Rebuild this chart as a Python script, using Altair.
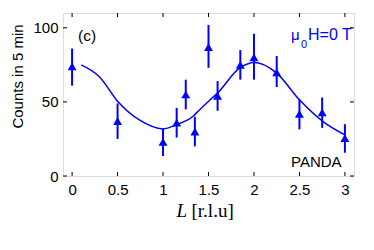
import altair as alt
import pandas as pd

# measured data points
L = [0, 0.5, 1.0, 1.15, 1.25, 1.35, 1.5, 1.6, 1.85, 2.0, 2.25, 2.5, 2.75, 3.0]
counts = [74, 37, 23, 36, 55, 30, 87, 54, 75, 80, 70, 42, 43, 25.5]
err_lo = [61, 25, 13.5, 26, 45, 20, 73, 44, 65, 65, 60, 31.5, 32.5, 15.7]
err_hi = [86, 49, 32, 46, 65, 40, 102, 64, 85, 96, 81, 51.5, 53, 35]

# fit curve
fit_L = [0.1, 0.3, 0.5, 0.74, 1.0, 1.145, 1.33, 1.4, 1.51, 1.6, 1.84, 2.01, 2.25, 2.5, 2.76, 3.0]
fit_c = [75, 67, 50.5, 37.8, 31.8, 34.5, 40.3, 44.6, 51, 56, 72.8, 76.6, 69.4, 51.4, 36.7, 27.7]

x_ticks = [0, 0.5, 1, 1.5, 2, 2.5, 3]
y_ticks = [0, 50, 100]

W, H = 291, 163
BLUE = "#0000FF"
SANS = "Liberation Sans"
SERIF = "Liberation Serif"

pts = pd.DataFrame({"L": L, "c": counts, "lo": err_lo, "hi": err_hi})
fit = pd.DataFrame({"L": fit_L, "c": fit_c})
xt = pd.DataFrame({"v": x_ticks})
yt = pd.DataFrame({"v": y_ticks})

xs = alt.Scale(domain=[-0.1, 3.1], nice=False, zero=False)
ys = alt.Scale(domain=[0, 110], nice=False)

xax = alt.Axis(values=x_ticks, title=None, ticks=False, domain=False, grid=False,
               labelFont=SANS, labelFontSize=15, labelColor="black", labelPadding=6,
               labelExpr="datum.value == 0 ? '0' : format(datum.value, '~g')")
yax = alt.Axis(values=y_ticks, title=None, ticks=False, domain=False, grid=False,
               labelFont=SANS, labelFontSize=15, labelColor="black", labelPadding=5)

base = alt.Chart(pts)

errs = base.mark_rule(color=BLUE, strokeWidth=2).encode(
    x=alt.X("L:Q", scale=xs, axis=xax),
    y=alt.Y("lo:Q", scale=ys, axis=yax),
    y2="hi:Q",
)
marks = base.mark_point(shape="triangle-up", filled=True, color=BLUE, size=80, opacity=1).encode(
    x=alt.X("L:Q", scale=xs), y=alt.Y("c:Q", scale=ys)
)
curve = alt.Chart(fit).mark_line(color=BLUE, strokeWidth=1.5, interpolate="monotone").encode(
    x=alt.X("L:Q", scale=xs), y=alt.Y("c:Q", scale=ys)
)

tb = alt.Chart(xt).mark_rule(color="black", strokeWidth=1).encode(
    x=alt.X("v:Q", scale=xs), y=alt.value(H), y2=alt.value(H - 4))
tt = alt.Chart(xt).mark_rule(color="black", strokeWidth=1).encode(
    x=alt.X("v:Q", scale=xs), y=alt.value(0), y2=alt.value(4))
tl = alt.Chart(yt).mark_rule(color="black", strokeWidth=1).encode(
    y=alt.Y("v:Q", scale=ys), x=alt.value(0), x2=alt.value(4))
tr = alt.Chart(yt).mark_rule(color="black", strokeWidth=1).encode(
    y=alt.Y("v:Q", scale=ys), x=alt.value(W - 4), x2=alt.value(W))


def txt(s, x, y, size, color="black", font=SANS, style="normal", angle=0, align="left"):
    return alt.Chart(pd.DataFrame({"t": [s]})).mark_text(
        font=font, fontSize=size, color=color, fontStyle=style, angle=angle,
        align=align, baseline="alphabetic"
    ).encode(x=alt.value(x), y=alt.value(y), text="t:N")


labels = [
    txt("(c)", 15, 28, 15.5),
    txt("μ", 228, 27, 15, BLUE),
    txt("0", 238, 35, 11, BLUE),
    txt("H=0 T", 245, 27, 16, BLUE),
    txt("PANDA", 228, 154, 15),
    txt("L", 113.5, 204, 19, font=SERIF, style="italic"),
    txt("[r.l.u]", 128.5, 204, 19, font=SERIF),
    txt("Counts in 5 min", -40, 63.5, 15, angle=270, align="center"),
]

chart = alt.layer(errs, curve, marks, tb, tt, tl, tr, *labels).properties(
    width=W, height=H,
    padding={"left": 55, "top": 5, "right": 12, "bottom": 60},
    autosize="none",
).configure_view(stroke="black", strokeWidth=1).configure(background="white")

chart.save("out.html", embed_options={"renderer": "svg", "actions": False})
